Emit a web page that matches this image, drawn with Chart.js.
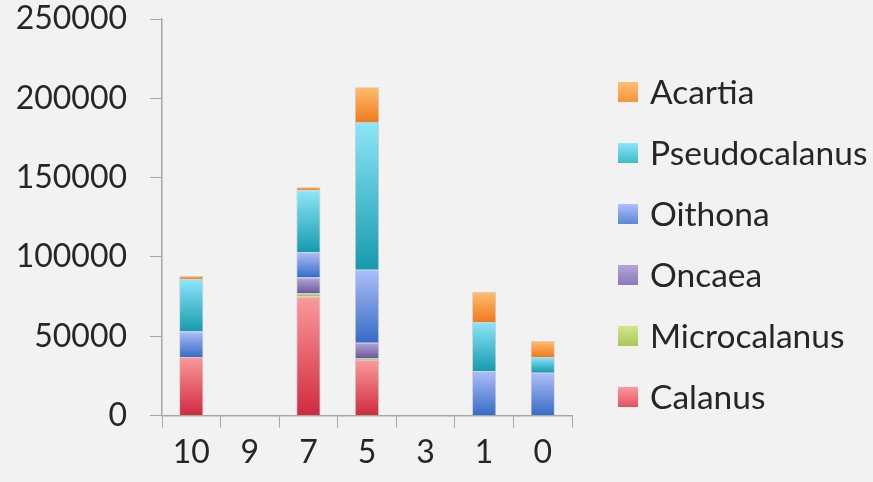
<!DOCTYPE html>
<html>
<head>
<meta charset="utf-8">
<script src="https://cdn.jsdelivr.net/npm/chart.js@4/dist/chart.umd.min.js"></script>
<style>
  html, body { margin: 0; padding: 0; background: #f2f2f2; }
  #wrap { width: 873px; height: 482px; }
</style>
</head>
<body>
<div id="wrap"><canvas id="chart" width="873" height="482"></canvas></div>
<script>
// Depth stations along the x axis
const categories = ['10', '9', '7', '5', '3', '1', '0'];

// Abundance per genus at each station
const calanus       = [37000, 0, 75000, 35000, 0, 0, 0];
const microcalanus  = [0, 0, 2000, 1000, 0, 0, 0];
const oncaea        = [0, 0, 10000, 10000, 0, 0, 0];
const oithona       = [16000, 0, 16000, 46000, 0, 28000, 27000];
const pseudocalanus = [33000, 0, 39000, 93000, 0, 31000, 10000];
const acartia       = [2000, 0, 2000, 22000, 0, 19000, 10000];

const seriesNames = ['Calanus', 'Microcalanus', 'Oncaea', 'Oithona', 'Pseudocalanus', 'Acartia'];
const seriesData  = [calanus, microcalanus, oncaea, oithona, pseudocalanus, acartia];

// Value axis
const yMin = 0, yMax = 250000, yStep = 50000;

// Fill styles: light at the top of a segment, dark at its base
const lightColors  = ['#fb9a9c', '#d2e68a', '#b4a6dc', '#aebef8', '#8ee6f8', '#ffbe70'];
const darkColors   = ['#cf2a3e', '#8aae3e', '#6a5896', '#356cc6', '#169aae', '#ef7a1e'];
const legendColors = ['#e4505f', '#a8c858', '#8a78b8', '#5a86d8', '#3cbcc8', '#f89440'];

const FONT = 'Lato, "Open Sans", sans-serif';
const FONT_SIZE = 32;
const LEGEND_FONT_SIZE = 33.5;
const textColor = '#262626';
const axisColor = '#a6a6a6';

function segmentFill(idx) {
  return (ctx) => {
    const chart = ctx.chart;
    if (ctx.type !== 'data' || !chart.chartArea || !chart.scales.y) return legendColors[idx];
    const i = ctx.dataIndex;
    let base = 0;
    for (let k = 0; k < idx; k++) base += chart.data.datasets[k].data[i];
    const top = base + chart.data.datasets[idx].data[i];
    const y0 = chart.scales.y.getPixelForValue(base);
    const y1 = chart.scales.y.getPixelForValue(top);
    if (!isFinite(y0) || !isFinite(y1) || Math.abs(y0 - y1) < 0.5) return legendColors[idx];
    const g = chart.ctx.createLinearGradient(0, y1, 0, y0);
    g.addColorStop(0, lightColors[idx]);
    g.addColorStop(1, darkColors[idx]);
    return g;
  };
}

const datasets = seriesNames.map((name, idx) => ({
  label: name,
  data: seriesData[idx],
  backgroundColor: segmentFill(idx),
  borderColor: 'rgba(150,150,150,0.45)',
  borderWidth: 0.8,
  barPercentage: 0.41,
  categoryPercentage: 1.0
}));

// Legend drawn in the space reserved at the right, top series first
const sideLegend = {
  id: 'sideLegend',
  afterDraw(chart) {
    const ctx = chart.ctx;
    const ds = chart.data.datasets;
    const boxX = chart.chartArea.right + 46;
    const firstRow = 92, rowStep = 61, box = 20;
    ctx.save();
    ctx.font = LEGEND_FONT_SIZE + 'px ' + FONT;
    ctx.textBaseline = 'middle';
    ctx.textAlign = 'left';
    for (let r = 0; r < ds.length; r++) {
      const i = ds.length - 1 - r;
      const cy = firstRow + r * rowStep;
      const g = ctx.createLinearGradient(0, cy - box / 2, 0, cy + box / 2);
      g.addColorStop(0, lightColors[i]);
      g.addColorStop(1, legendColors[i]);
      ctx.fillStyle = g;
      ctx.fillRect(boxX, cy - box / 2, box, box);
      ctx.fillStyle = textColor;
      ctx.fillText(ds[i].label, boxX + 32, cy + 1);
    }
    ctx.restore();
  }
};

new Chart(document.getElementById('chart'), {
  type: 'bar',
  data: { labels: categories, datasets },
  plugins: [sideLegend],
  options: {
    responsive: false,
    animation: false,
    layout: { padding: { top: 2, left: 14, right: 301, bottom: 4 } },
    scales: {
      x: {
        stacked: true,
        grid: { drawOnChartArea: false, drawTicks: true, tickLength: 12, color: axisColor, offset: true },
        border: { color: axisColor, width: 1.5 },
        ticks: { color: textColor, padding: 6, font: { family: FONT, size: FONT_SIZE } }
      },
      y: {
        stacked: true,
        min: yMin, max: yMax,
        grid: { drawOnChartArea: false, drawTicks: true, tickLength: 12, color: axisColor },
        border: { color: axisColor, width: 1.5 },
        afterFit: (axis) => {
          axis.width = 148;
          axis.paddingTop = 19;
          axis.paddingBottom = 19;
        },
        ticks: {
          stepSize: yStep,
          color: textColor,
          padding: 23,
          font: { family: FONT, size: FONT_SIZE },
          callback: (v) => String(v)
        }
      }
    },
    plugins: {
      tooltip: { enabled: false },
      legend: { display: false }
    }
  }
});
</script>
</body>
</html>
